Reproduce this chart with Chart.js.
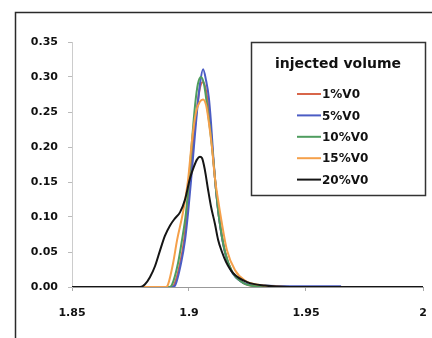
<!DOCTYPE html>
<html>
<head>
<meta charset="utf-8">
<script src="https://cdn.jsdelivr.net/npm/chart.js@4/dist/chart.umd.min.js"></script>
<style>
  html, body { margin: 0; padding: 0; background: #fff; }
  #wrap { position: relative; width: 432px; height: 338px; }
</style>
</head>
<body>
<div id="wrap"><canvas id="chart" width="432" height="338"></canvas></div>
<script>
// ===== データ =====
const seriesLabels = ['1%V0', '5%V0', '10%V0', '15%V0', '20%V0'];
const seriesColors = ['#d8664a', '#4b5cc4', '#4f9d5f', '#f5a04a', '#151515'];
const legendTitle = 'injected volume';

const xTicks = [1.85, 1.9, 1.95, 2.0];
const xTickLabels = ['1.85', '1.9', '1.95', '2'];
const yTicks = [0, 0.05, 0.1, 0.15, 0.2, 0.25, 0.3, 0.35];
const yTickLabels = ['0.00', '0.05', '0.10', '0.15', '0.20', '0.25', '0.30', '0.35'];

const x1 = [1.85, 1.8923, 1.8936, 1.8962, 1.8979, 1.8991, 1.9004, 1.9017, 1.9034, 1.9047, 1.9060, 1.9073, 1.9085, 1.9094, 1.9103, 1.9115, 1.9128, 1.9154, 1.9184, 1.9231, 1.9303, 1.9432];
const y1 = [0, 0, 0.003, 0.034, 0.067, 0.106, 0.153, 0.2, 0.255, 0.285, 0.293, 0.28, 0.25, 0.22, 0.185, 0.14, 0.1, 0.05, 0.022, 0.006, 0.001, 0];

const x5 = [1.85, 1.8927, 1.8940, 1.8966, 1.8983, 1.8996, 1.9009, 1.9021, 1.9034, 1.9047, 1.9060, 1.9073, 1.9085, 1.9094, 1.9103, 1.9115, 1.9128, 1.9150, 1.9179, 1.9226, 1.9303, 1.947, 1.965];
const y5 = [0, 0, 0.002, 0.034, 0.067, 0.106, 0.153, 0.2, 0.25, 0.29, 0.311, 0.295, 0.27, 0.235, 0.19, 0.14, 0.1, 0.055, 0.024, 0.007, 0.002, 0.001, 0.001];

const x10 = [1.85, 1.8915, 1.8927, 1.8953, 1.8970, 1.8987, 1.9000, 1.9013, 1.9026, 1.9038, 1.9051, 1.9064, 1.9077, 1.9090, 1.9103, 1.9115, 1.9128, 1.9154, 1.9184, 1.9231, 1.9303, 1.9389];
const y10 = [0, 0, 0.003, 0.034, 0.067, 0.106, 0.153, 0.21, 0.26, 0.29, 0.30, 0.29, 0.26, 0.225, 0.185, 0.14, 0.1, 0.05, 0.022, 0.006, 0.001, 0];

const x15 = [1.85, 1.8902, 1.8910, 1.8932, 1.8949, 1.8974, 1.8996, 1.9013, 1.9030, 1.9047, 1.9060, 1.9073, 1.9085, 1.9098, 1.9111, 1.9124, 1.9137, 1.9162, 1.9197, 1.9239, 1.9303, 1.941];
const y15 = [0, 0, 0.003, 0.034, 0.067, 0.106, 0.153, 0.21, 0.25, 0.265, 0.268, 0.26, 0.235, 0.2, 0.155, 0.125, 0.098, 0.053, 0.024, 0.009, 0.003, 0];

const x20 = [1.85, 1.8791, 1.8812, 1.8833, 1.8855, 1.8876, 1.8897, 1.8919, 1.8940, 1.8962, 1.8983, 1.9004, 1.9021, 1.9034, 1.9047, 1.9056, 1.9068, 1.9081, 1.9094, 1.9111, 1.9124, 1.9141, 1.9158, 1.9188, 1.9248, 1.9325, 1.9432, 2.0];
const y20 = [0, 0, 0.004, 0.014, 0.03, 0.052, 0.073, 0.088, 0.098, 0.107, 0.125, 0.155, 0.172, 0.182, 0.186, 0.184, 0.167, 0.14, 0.115, 0.09, 0.068, 0.05, 0.036, 0.02, 0.007, 0.002, 0, 0];

const xs = [x1, x5, x10, x15, x20];
const ys = [y1, y5, y10, y15, y20];
const drawOrder = [4, 3, 2, 1, 0];   // 20%V0 を最前面に

// ===== 枠と凡例 =====
const framePlugin = {
  id: 'frame',
  afterDraw(chart) {
    const ctx = chart.ctx;
    ctx.save();
    // 外枠（上・左のみ見える）
    ctx.strokeStyle = '#2a2a2a';
    ctx.lineWidth = 1.5;
    ctx.beginPath();
    ctx.moveTo(15.5, 338);
    ctx.lineTo(15.5, 12.5);
    ctx.lineTo(432, 12.5);
    ctx.stroke();

    // 凡例ボックス
    ctx.fillStyle = '#fff';
    ctx.fillRect(251, 42, 175, 154);
    ctx.strokeStyle = '#333';
    ctx.lineWidth = 1.5;
    ctx.strokeRect(251.5, 42.5, 174, 153);

    ctx.fillStyle = '#111';
    ctx.font = 'bold 14px "DejaVu Sans"';
    ctx.textAlign = 'center';
    ctx.textBaseline = 'middle';
    ctx.fillText(legendTitle, 338, 64);

    ctx.font = 'bold 12px "DejaVu Sans"';
    ctx.textAlign = 'left';
    seriesLabels.forEach((lab, i) => {
      const y = 94 + i * 21.4;
      ctx.strokeStyle = seriesColors[i];
      ctx.lineWidth = 2;
      ctx.beginPath();
      ctx.moveTo(297, y);
      ctx.lineTo(321, y);
      ctx.stroke();
      ctx.fillStyle = '#111';
      ctx.fillText(lab, 322, y + 1);
    });
    ctx.restore();
  }
};

// ===== チャート =====
const datasets = seriesLabels.map((lab, i) => ({
  label: lab,
  data: xs[i].map((x, j) => ({ x, y: ys[i][j] })),
  borderColor: seriesColors[i],
  backgroundColor: seriesColors[i],
  borderWidth: 2,
  pointRadius: 0,
  cubicInterpolationMode: 'monotone',
  order: drawOrder[i],
}));

const tickFont = { family: '"DejaVu Sans"', size: 11, weight: 'bold' };

new Chart(document.getElementById('chart'), {
  type: 'line',
  data: { datasets },
  options: {
    responsive: false,
    animation: false,
    events: [],
    layout: { padding: { left: 0, top: 42, right: 9, bottom: 0 } },
    plugins: { legend: { display: false }, tooltip: { enabled: false } },
    scales: {
      x: {
        type: 'linear',
        min: 1.85, max: 2.0,
        afterBuildTicks: s => { s.ticks = xTicks.map(v => ({ value: v })); },
        afterFit: s => { s.height = 51; s.paddingLeft = 0; s.paddingRight = 0; },
        ticks: {
          color: '#111', font: tickFont, padding: 16, maxRotation: 0,
          callback: (v, i) => xTickLabels[i],
        },
        grid: { drawOnChartArea: false, tickLength: 4, color: '#aaa' },
        border: { color: '#999', width: 1 },
      },
      y: {
        min: 0, max: 0.35,
        afterBuildTicks: s => { s.ticks = yTicks.map(v => ({ value: v })); },
        afterFit: s => { s.width = 72; },
        ticks: {
          color: '#111', font: tickFont, padding: 10,
          callback: (v, i) => yTickLabels[i],
        },
        grid: { drawOnChartArea: false, tickLength: 4, color: '#bbb' },
        border: { color: '#ccc', width: 1 },
      }
    }
  },
  plugins: [framePlugin]
});
</script>
</body>
</html>
